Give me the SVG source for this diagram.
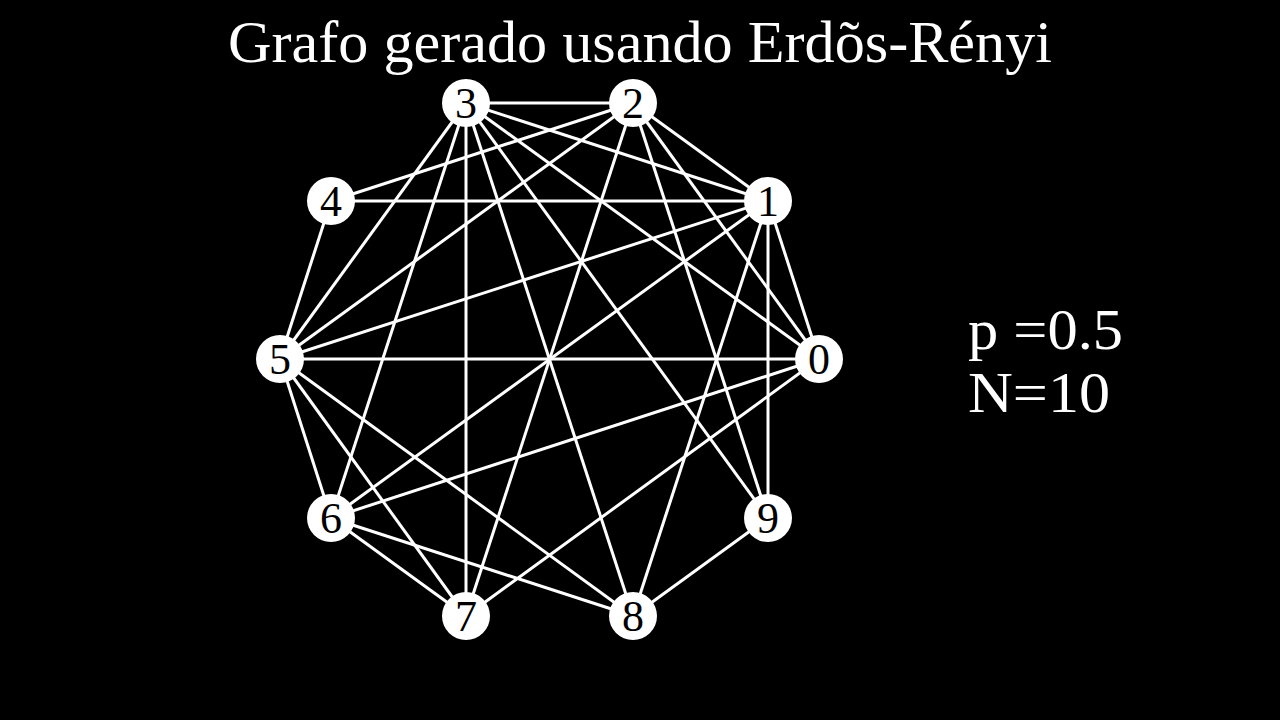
<svg xmlns="http://www.w3.org/2000/svg" width="1280" height="720" viewBox="0 0 1280 720">
<style>
.e{stroke:#fff;stroke-width:3;fill:none}
.n circle{fill:#fff}
.n text{font-family:"Liberation Serif",serif;font-size:44px;fill:#000;text-anchor:middle}
.t{font-family:"Liberation Serif",serif;font-size:60px;fill:#fff}
.s{font-family:"Liberation Serif",serif;font-size:56px;fill:#fff}
</style>
<rect width="1280" height="720" fill="#000"/>
<text class="t" x="640" y="62" text-anchor="middle" textLength="824" lengthAdjust="spacingAndGlyphs">Grafo gerado usando Erdõs-Rényi</text>
<g id="connectors" class="e">
<line x1="819" y1="359" x2="768" y2="201"/>
<line x1="819" y1="359" x2="633" y2="103"/>
<line x1="819" y1="359" x2="466" y2="103"/>
<line x1="819" y1="359" x2="280" y2="359"/>
<line x1="819" y1="359" x2="331" y2="518"/>
<line x1="819" y1="359" x2="466" y2="616"/>
<line x1="768" y1="201" x2="633" y2="103"/>
<line x1="768" y1="201" x2="466" y2="103"/>
<line x1="768" y1="201" x2="331" y2="201"/>
<line x1="768" y1="201" x2="280" y2="359"/>
<line x1="768" y1="201" x2="331" y2="518"/>
<line x1="768" y1="201" x2="633" y2="616"/>
<line x1="768" y1="201" x2="768" y2="518"/>
<line x1="633" y1="103" x2="466" y2="103"/>
<line x1="633" y1="103" x2="331" y2="201"/>
<line x1="633" y1="103" x2="280" y2="359"/>
<line x1="633" y1="103" x2="466" y2="616"/>
<line x1="633" y1="103" x2="768" y2="518"/>
<line x1="466" y1="103" x2="280" y2="359"/>
<line x1="466" y1="103" x2="331" y2="518"/>
<line x1="466" y1="103" x2="466" y2="616"/>
<line x1="466" y1="103" x2="633" y2="616"/>
<line x1="466" y1="103" x2="768" y2="518"/>
<line x1="331" y1="201" x2="280" y2="359"/>
<line x1="280" y1="359" x2="331" y2="518"/>
<line x1="280" y1="359" x2="466" y2="616"/>
<line x1="280" y1="359" x2="633" y2="616"/>
<line x1="331" y1="518" x2="466" y2="616"/>
<line x1="331" y1="518" x2="633" y2="616"/>
<line x1="633" y1="616" x2="768" y2="518"/>
</g>
<g id="node0" class="n"><circle cx="819" cy="359" r="24"/><text x="819" y="374">0</text></g>
<g id="node1" class="n"><circle cx="768" cy="201" r="24"/><text x="768" y="216">1</text></g>
<g id="node2" class="n"><circle cx="633" cy="103" r="24"/><text x="633" y="118">2</text></g>
<g id="node3" class="n"><circle cx="466" cy="103" r="24"/><text x="466" y="118">3</text></g>
<g id="node4" class="n"><circle cx="331" cy="201" r="24"/><text x="331" y="216">4</text></g>
<g id="node5" class="n"><circle cx="280" cy="359" r="24"/><text x="280" y="374">5</text></g>
<g id="node6" class="n"><circle cx="331" cy="518" r="24"/><text x="331" y="533">6</text></g>
<g id="node7" class="n"><circle cx="466" cy="616" r="24"/><text x="466" y="631">7</text></g>
<g id="node8" class="n"><circle cx="633" cy="616" r="24"/><text x="633" y="631">8</text></g>
<g id="node9" class="n"><circle cx="768" cy="518" r="24"/><text x="768" y="533">9</text></g>
<text class="s" x="968" y="349" textLength="155" lengthAdjust="spacingAndGlyphs">p =0.5</text>
<text class="s" x="968" y="412" textLength="142" lengthAdjust="spacingAndGlyphs">N=10</text>
</svg>
